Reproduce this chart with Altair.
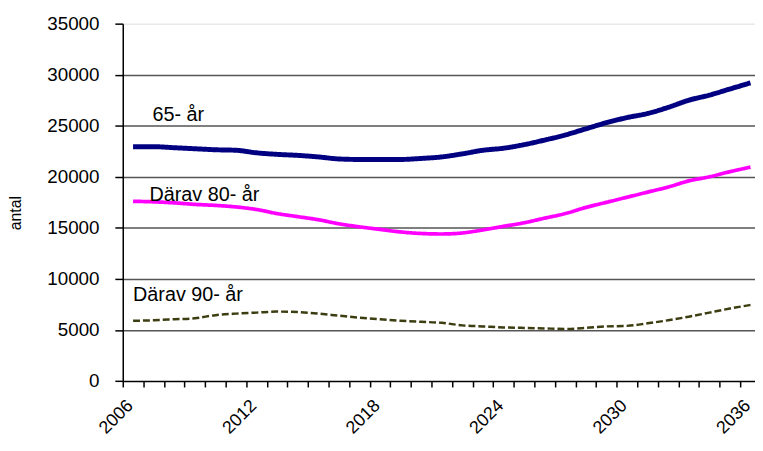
import altair as alt
import pandas as pd

years = list(range(2006, 2037))
age65 = [22950, 22950, 22850, 22750, 22650, 22600, 22350, 22200, 22100, 21950,
         21750, 21700, 21700, 21700, 21800, 21950, 22250, 22600, 22800, 23150,
         23600, 24100, 24700, 25300, 25800, 26200, 26800, 27500, 28000, 28600, 29200]
age80 = [17600, 17550, 17450, 17300, 17200, 17050, 16800, 16400, 16100, 15800,
         15400, 15100, 14850, 14600, 14450, 14400, 14500, 14800, 15150, 15500,
         15950, 16400, 17000, 17500, 18000, 18500, 19000, 19600, 20000, 20500, 20950]
age90 = [5900, 5950, 6050, 6150, 6450, 6600, 6700, 6800, 6750, 6600,
         6400, 6200, 6050, 5900, 5800, 5700, 5450, 5350, 5250, 5200,
         5150, 5100, 5200, 5350, 5400, 5650, 5950, 6300, 6700, 7100, 7450]

series_names = ["65- år", "Därav 80- år", "Därav 90- år"]
series_colors = ["#000080", "#FF00FF", "#3d3d12"]
series_widths = [5, 2.5, 3]
series_dash = [[1, 0], [1, 0], [7, 3]]

label_texts = ["65- år", "Därav 80- år", "Därav 90- år"]
label_x = [2006.94, 2006.8, 2006.0]
label_y = [25450, 17600, 7850]

y_ticks = [0, 5000, 10000, 15000, 20000, 25000, 30000, 35000]
x_label_years = [2006, 2012, 2018, 2024, 2030, 2036]
x_tick_values = [2005.5 + 0.5 * i for i in range(62)]

rows = []
for name, vals in zip(series_names, [age65, age80, age90]):
    for yr, v in zip(years, vals):
        rows.append({"year": yr, "value": v, "series": name})
df = pd.DataFrame(rows)
lab = pd.DataFrame({"text": label_texts, "year": label_x, "value": label_y})

FONT = "Liberation Sans"
xscale = alt.Scale(domain=[2005.5, 2036.22], nice=False, zero=False)
yscale = alt.Scale(domain=[0, 35000], nice=False)

label_test = " || ".join("datum.value == %d" % v for v in x_label_years)

xaxis = alt.Axis(
    values=x_tick_values, tickCount=200, title=None,
    labelExpr="(" + label_test + ") ? toString(datum.value) : ''",
    labelAngle=315, labelAlign="right", labelBaseline="middle",
    labelPadding=16, labelOffset=-3, labelFontSize=18, labelFont=FONT, labelColor="#000",
    labelOverlap=False, labelFlush=False,
    tickOpacity={"condition": {"test": "datum.value % 1 == 0", "value": 0}, "value": 1},
    tickSize=6, tickColor="#000", tickWidth=1.5,
    domainColor="#000", domainWidth=1.5, grid=False,
)
yaxis = alt.Axis(
    values=y_ticks, tickCount=20, format="d", title="antal",
    labelFontSize=19, labelFont=FONT, labelColor="#000", labelPadding=16,
    tickSize=8, tickColor="#000", tickWidth=1.5,
    domainColor="#000", domainWidth=1.5,
    grid=True, gridColor="#555", gridWidth=1.5,
    gridOpacity={"condition": {"test": "datum.value >= 35000 || datum.value <= 0", "value": 0}, "value": 1},
    titleFont=FONT, titleFontSize=16, titleFontWeight="normal", titleColor="#000",
    titleX=-108, titleY=191, titleAngle=270, titleBaseline="middle", titleAlign="center",
)

lines = alt.Chart(df).mark_line(interpolate="monotone").encode(
    x=alt.X("year:Q", scale=xscale, axis=xaxis),
    y=alt.Y("value:Q", scale=yscale, axis=yaxis),
    color=alt.Color("series:N", scale=alt.Scale(domain=series_names, range=series_colors), legend=None),
    strokeWidth=alt.StrokeWidth("series:N", scale=alt.Scale(domain=series_names, range=series_widths), legend=None),
    strokeDash=alt.StrokeDash("series:N", scale=alt.Scale(domain=series_names, range=series_dash), legend=None),
    detail="series:N",
)

texts = alt.Chart(lab).mark_text(align="left", baseline="alphabetic", font=FONT, fontSize=20, color="#000").encode(
    x=alt.X("year:Q", scale=xscale, axis=xaxis),
    y=alt.Y("value:Q", scale=yscale, axis=yaxis),
    text="text:N",
)

chart = alt.layer(lines, texts).properties(
    width=639, height=361.2,
    autosize=alt.AutoSizeParams(type="none"),
    padding={"left": 116, "top": 13.5, "right": 0, "bottom": 60},
).configure_view(stroke=None).configure(background="white")

chart.save("out.html", embed_options={"renderer": "svg", "actions": False})
